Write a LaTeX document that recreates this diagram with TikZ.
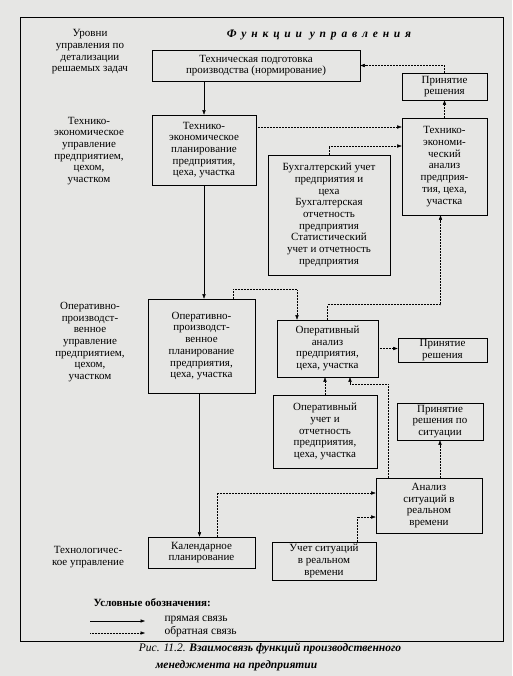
\documentclass[tikz,border=0pt]{standalone}
\usepackage{fontspec}
\setmainfont{Liberation Serif}
\newfontfamily\spacedfont[LetterSpace=42]{Liberation Serif}
\usetikzlibrary{arrows.meta,positioning}
\definecolor{paper}{HTML}{E6E6E4}

\begin{document}
\begin{tikzpicture}[x=1pt,y=-1pt,font=\fontsize{11}{11.7}\selectfont,
    fbox/.style={draw,align=center,inner sep=1pt,line width=0.6pt},
    direct/.style={-{Triangle[length=4.5pt,width=3.2pt]},line width=0.5pt},
    feedback/.style={direct,densely dotted}]
  \fill[paper] (0,0) rectangle (512,676);
  \useasboundingbox (0,0) rectangle (512,676);
  \draw[line width=0.8pt] (20,17) rectangle (503,641);

  % levels of management
  \node[align=center] (lvl) at (90,52) {Уровни\\управления по\\детализации\\решаемых задач};
  \node[align=center] (lvlte) at (89,151) {Технико-\\экономическое\\управление\\предприятием,\\цехом,\\участком};
  \node[align=center] (lvlop) at (90,342) {Оперативно-\\производст-\\венное\\управление\\предприятием,\\цехом,\\участком};
  \node[align=center] (lvltech) at (88,557) {Технологичес-\\кое управление};

  \node[font=\fontsize{11.5}{12}\selectfont] (title) at (319,35) {\spacedfont\bfseries\itshape Функции управления};

  % functions
  \node[fbox,minimum width=208pt,minimum height=31pt] (prep) at (256,65.5)
    {Техническая подготовка\\производства (нормирование)};
  \node[fbox,minimum width=104pt,minimum height=70pt] (teplan) at (204,150)
    {Технико-\\экономическое\\планирование\\предприятия,\\цеха, участка};
  \node[fbox,minimum width=85pt,minimum height=27pt] (dec1) at (444.5,86.5)
    {Принятие\\решения};
  \node[fbox,minimum width=85pt,minimum height=97pt] (teanal) at (444.5,166.5)
    {Технико-\\экономи-\\ческий\\анализ\\предприя-\\тия, цеха,\\участка};
  \node[fbox,minimum width=122pt,minimum height=120pt] (acct) at (329,215)
    {Бухгалтерский учет\\предприятия и\\цеха\\Бухгалтерская\\отчетность\\предприятия\\Статистический\\учет и отчетность\\предприятия};
  \node[fbox,minimum width=107pt,minimum height=94pt] (opplan) at (201.5,346)
    {Оперативно-\\производст-\\венное\\планирование\\предприятия,\\цеха, участка};
  \node[fbox,minimum width=101pt,minimum height=57pt] (opanal) at (327.5,348.5)
    {Оперативный\\анализ\\предприятия,\\цеха, участка};
  \node[fbox,minimum width=89pt,minimum height=24pt] (dec2) at (442.5,350)
    {Принятие\\решения};
  \node[fbox,minimum width=104pt,minimum height=73pt] (opacct) at (325,431.5)
    {Оперативный\\учет и\\отчетность\\предприятия,\\цеха, участка};
  \node[fbox,minimum width=86pt,minimum height=37pt] (dec3) at (440,421.5)
    {Принятие\\решения по\\ситуации};
  \node[fbox,minimum width=106pt,minimum height=55pt] (sitanal) at (429,505.5)
    {Анализ\\ситуаций в\\реальном\\времени};
  \node[fbox,minimum width=107pt,minimum height=31pt] (cal) at (201.5,552.5)
    {Календарное\\планирование};
  \node[fbox,minimum width=104pt,minimum height=38pt] (sitacct) at (324,561)
    {Учет ситуаций\\в реальном\\времени};

  % direct links
  \draw[direct] (prep.south -| teplan.north) -- (teplan.north);
  \draw[direct] (teplan.south) -- (teplan.south |- opplan.north);
  \draw[direct] ([xshift=-2pt]opplan.south) -- ([xshift=-2pt]opplan.south |- cal.north);

  % feedback links
  \draw[feedback] (dec1.north) |- (prep.east);
  \draw[feedback] (teanal.north) -- (dec1.south);
  \draw[feedback] ([yshift=23pt]teplan.east) -- ([yshift=23pt]teplan.east -| teanal.west);
  \draw[feedback] (acct.north) |- ([yshift=20.5pt]teanal.west);
  \draw[feedback] ([xshift=31.5pt]opplan.north) -- ++(0,-9) -| ([xshift=-30.5pt]opanal.north);
  \draw[feedback] (opanal.north) -- ++(0,-15) -| ([xshift=-4pt]teanal.south);
  \draw[feedback] (opanal.east) -- (opanal.east -| dec2.west);
  \draw[feedback] (opacct.north) -- (opacct.north |- opanal.south);
  \draw[feedback] ([xshift=-41pt]sitanal.north) |- ([xshift=22.5pt,yshift=-7pt]opanal.south)
    -- ([xshift=22.5pt]opanal.south);
  \draw[feedback] (dec3.south |- sitanal.north) -- (dec3.south);
  \draw[feedback] ([xshift=15.5pt]cal.north) |- ([yshift=12.5pt]sitanal.west);
  \draw[feedback] ([xshift=33pt]sitacct.north) |- ([yshift=-11.5pt]sitanal.west);

  % legend
  \node[font=\fontsize{11}{12}\selectfont\bfseries,anchor=west] (legend) at (90,603) {Условные обозначения:};
  \coordinate (ds) at (90,621);
  \coordinate (de) at (145,621);
  \coordinate (fs) at (90,633);
  \coordinate (fe) at (145,633);
  \draw[direct] (ds) -- (de);
  \draw[feedback] (fs) -- (fe);
  \node[anchor=west,font=\fontsize{11.5}{12}\selectfont] (dlabel) at (161,620) {прямая связь};
  \node[anchor=west,font=\fontsize{11.5}{12}\selectfont] (flabel) at (161,632) {обратная связь};

  % caption
  \node[font=\fontsize{11.5}{12}\selectfont\itshape] (cap1) at (270,649)
    {Рис. 11.2. \textbf{Взаимосвязь функций производственного}};
  \node[font=\fontsize{11.5}{12}\selectfont\itshape\bfseries,anchor=west] (cap2) at (152,666)
    {менеджмента на предприятии};
\end{tikzpicture}
\end{document}
